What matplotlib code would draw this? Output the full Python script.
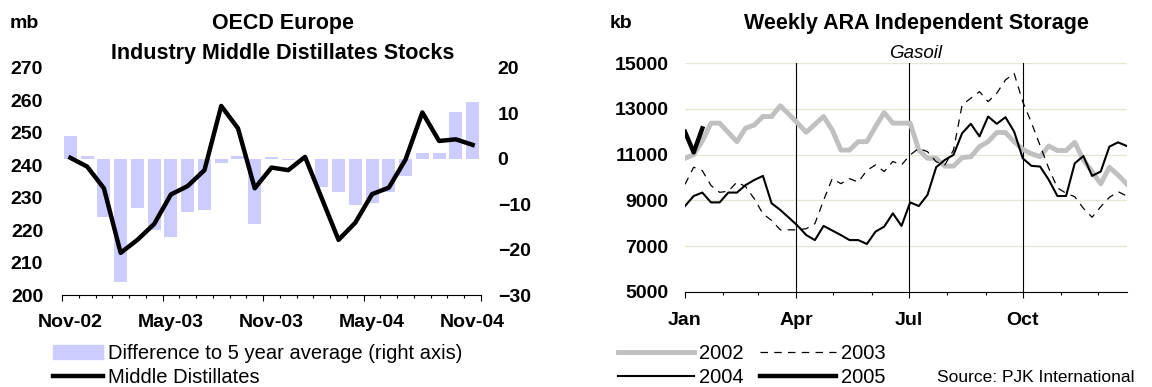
import numpy as np
import matplotlib
matplotlib.use("Agg")
import matplotlib.pyplot as plt
from matplotlib.patches import Patch
from matplotlib.lines import Line2D

plt.rcParams['font.family'] = ['Liberation Sans', 'DejaVu Sans']
plt.rcParams['font.weight'] = 'bold'

# --- left chart: OECD Europe middle distillates, monthly Nov-02 .. Nov-04
months = ['Nov-02', 'Dec-02', 'Jan-03', 'Feb-03', 'Mar-03', 'Apr-03', 'May-03',
          'Jun-03', 'Jul-03', 'Aug-03', 'Sep-03', 'Oct-03', 'Nov-03', 'Dec-03',
          'Jan-04', 'Feb-04', 'Mar-04', 'Apr-04', 'May-04', 'Jun-04', 'Jul-04',
          'Aug-04', 'Sep-04', 'Oct-04', 'Nov-04']
diff_5yr = [5.1, 0.7, -12.8, -27.1, -10.8, -15.7, -17.2, -11.7, -11.3, -1.0,
            0.7, -14.4, 0.3, -0.3, 0.0, -6.2, -7.3, -10.2, -9.7, -7.3,
            -3.7, 1.2, 1.2, 10.4, 12.6]
mid_dist = [242.3, 239.6, 232.9, 213.0, 217.0, 221.9, 231.0, 233.6, 238.5, 258.3,
            251.4, 232.9, 239.3, 238.5, 242.6, 229.8, 217.0, 222.3, 231.1, 233.1,
            241.8, 256.3, 247.5, 248.0, 246.3]
label_months = ['Nov-02', 'May-03', 'Nov-03', 'May-04', 'Nov-04']

# --- right chart: weekly ARA gasoil storage, kb
gas_2002 = [10840, 11000, 11600, 12380, 12380, 11970, 11570, 12160, 12300, 12670,
            12670, 13140, 12770, 12380, 11980, 12330, 12670, 12080, 11200, 11200,
            11570, 11570, 12230, 12840, 12380, 12380, 12380, 11200, 10840, 10840,
            10500, 10500, 10870, 10910, 11350, 11570, 11970, 11970, 11570, 11230,
            11040, 10910, 11380, 11180, 11180, 11540, 10770, 10260, 9720, 10450,
            10110, 9720]
gas_2003 = [9700, 10450, 10300, 9650, 9350, 9400, 9800, 9600, 9070, 8410,
            8120, 7710, 7710, 7710, 7760, 7980, 9000, 9950, 9730, 9950,
            9800, 10310, 10550, 10260, 10700, 10550, 10990, 11280, 11130, 10690,
            10550, 11200, 13180, 13470, 13760, 13320, 13690, 14270, 14560, 13320,
            12400, 11400, 10400, 9550, 9310, 9160, 8650, 8260, 8720, 9130,
            9380, 9190]
gas_2004 = [8750, 9190, 9340, 8910, 8910, 9340, 9340, 9670, 9890, 10070,
            8870, 8580, 8240, 7890, 7480, 7260, 7880, 7680, 7480, 7260,
            7260, 7090, 7630, 7850, 8430, 7880, 8910, 8750, 9240, 10450,
            10770, 10990, 11940, 12350, 11800, 12670, 12350, 12640, 12010, 10840,
            10510, 10480, 9900, 9190, 9190, 10620, 10940, 10070, 10260, 11350,
            11540, 11380]
gas_2005 = [12000, 11100, 12150]
month_days = [0, 31, 59, 90, 120, 151, 181, 212, 243, 273, 304, 334]
quarter_days = [0, 90, 181, 273]
quarter_labels = ['Jan', 'Apr', 'Jul', 'Oct']

W, H = 1152, 387
fig = plt.figure(figsize=(W / 100, H / 100), dpi=100)


def px_axes(x0, y0, x1, y1):
    return fig.add_axes([x0 / W, 1 - y1 / H, (x1 - x0) / W, (y1 - y0) / H])


TICK = 14
LEG = 14.5

# ---------------- left chart
ax_bar = px_axes(62, 68, 481, 295)
x = np.arange(len(months))
ax_bar.bar(x, diff_5yr, width=0.78, color='#CCCCFF', zorder=2)
ax_bar.set_ylim(-30, 20)
ax_bar.set_yticks(np.arange(-30, 21, 10))

ax_line = ax_bar.twinx()
ax_line.plot(x, mid_dist, color='black', lw=3.2)
ax_line.set_ylim(200, 270)
ax_line.set_yticks(np.arange(200, 271, 10))
ax_bar.yaxis.tick_right()
ax_line.yaxis.tick_left()
ax_bar.tick_params(axis='y', length=0, pad=12, labelsize=TICK)
ax_line.tick_params(axis='y', length=0, pad=13.5, labelsize=TICK)

ax_bar.set_xlim(-0.5, len(months) - 0.5)
ax_bar.set_xticks([-0.5, 5.5, 11.5, 17.5, 24.5])
ax_bar.set_xticks(np.arange(-0.5, len(months)), minor=True)
ax_bar.tick_params(axis='x', which='major', length=4.5, width=0.8, labelbottom=False)
ax_bar.tick_params(axis='x', which='minor', length=2.5, width=0.8)
sec = ax_bar.secondary_xaxis('bottom')
sec.set_xticks(x[::6], label_months)
sec.tick_params(length=0, pad=14, labelsize=TICK)
sec.spines['bottom'].set_visible(False)

for a in (ax_bar, ax_line):
    for s in ('top', 'left', 'right'):
        a.spines[s].set_visible(False)
ax_line.spines['bottom'].set_visible(False)
ax_bar.spines['bottom'].set_linewidth(0.8)

fig.text(10 / W, 1 - 24 / H, 'mb', ha='left', va='center', fontsize=TICK)
fig.text(283 / W, 1 - 24 / H, 'OECD Europe', ha='center', va='center', fontsize=15.5)
fig.text(283 / W, 1 - 54 / H, 'Industry Middle Distillates Stocks', ha='center',
         va='center', fontsize=15.5)

fig.legend(handles=[Patch(color='#CCCCFF'), Line2D([], [], color='black', lw=3.2)],
           labels=['Difference to 5 year average (right axis)', 'Middle Distillates'],
           loc='upper left', bbox_to_anchor=(53 / W, 1 - 344 / H), frameon=False,
           prop={'weight': 'normal', 'size': LEG}, handlelength=2.5,
           handletextpad=0.25, borderpad=0, borderaxespad=0, labelspacing=0.25)

# ---------------- right chart
ax2 = px_axes(685, 63.3, 1126.7, 291.7)
days = np.arange(len(gas_2002)) * 7
ax2.plot(days, gas_2002, color='#C0C0C0', lw=3.5, zorder=3)
ax2.plot(days, gas_2003, color='black', lw=0.9, ls=(0, (6, 5)), zorder=3)
ax2.plot(days, gas_2004, color='black', lw=1.5, zorder=3)
ax2.plot(days[:len(gas_2005)], gas_2005, color='black', lw=3.2, zorder=3)
for d in quarter_days[1:]:
    ax2.axvline(d, color='black', lw=0.8, zorder=2)
ax2.set_xlim(0, days[-1])
ax2.set_ylim(5000, 15000)
ax2.set_yticks(np.arange(5000, 15001, 2000))
ax2.grid(axis='y', color='#E6E6D2', lw=1)
ax2.set_axisbelow(True)
ax2.tick_params(axis='y', length=0, pad=12, labelsize=TICK)
ax2.set_xticks(quarter_days, quarter_labels)
ax2.set_xticks(month_days, minor=True)
ax2.tick_params(axis='x', which='major', length=4.5, width=0.8, pad=10, labelsize=TICK)
ax2.tick_params(axis='x', which='minor', length=2.5, width=0.8)
for s in ('top', 'left', 'right'):
    ax2.spines[s].set_visible(False)
ax2.spines['bottom'].set_linewidth(0.8)

fig.text(610 / W, 1 - 24 / H, 'kb', ha='left', va='center', fontsize=TICK)
fig.text(916 / W, 1 - 24 / H, 'Weekly ARA Independent Storage', ha='center',
         va='center', fontsize=15.5)
fig.text(916 / W, 1 - 54 / H, 'Gasoil', ha='center', va='center', fontsize=13.5,
         style='italic', weight='normal')

h02 = Line2D([], [], color='#C0C0C0', lw=3.5)
h03 = Line2D([], [], color='black', lw=0.9, ls=(0, (6, 5)))
h04 = Line2D([], [], color='black', lw=1.5)
h05 = Line2D([], [], color='black', lw=3.2)
fig.legend(handles=[h02, h04, h03, h05], labels=['2002', '2004', '2003', '2005'],
           ncol=2, loc='upper left', bbox_to_anchor=(618 / W, 1 - 344 / H),
           frameon=False, prop={'weight': 'normal', 'size': LEG},
           handlelength=3.75, handletextpad=0.25, columnspacing=0.85,
           borderpad=0, borderaxespad=0, labelspacing=0.25)
fig.text(937 / W, 1 - 378 / H, 'Source: PJK International', ha='left', va='center',
         fontsize=12.5, weight='normal')

fig.savefig('out.png', dpi=100)
